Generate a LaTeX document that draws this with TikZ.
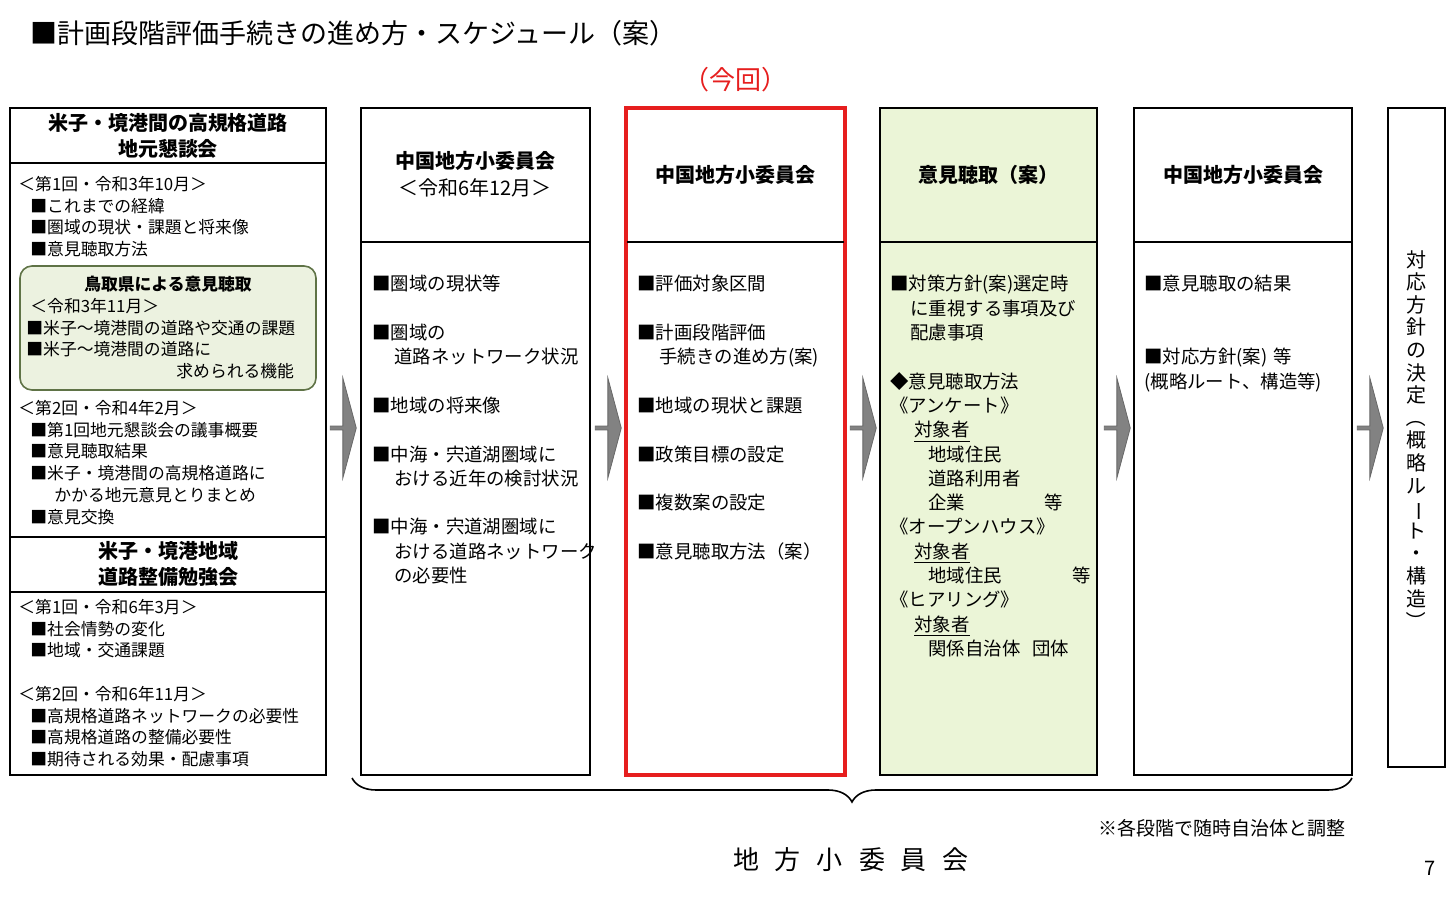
\documentclass[tikz,border=0pt]{standalone}
\usepackage{fontspec}
\setmainfont{Noto Sans CJK JP}
\usepackage{graphicx}
\usetikzlibrary{shapes.arrows, decorations.pathreplacing, positioning}
\definecolor{paleGreen}{RGB}{235,245,215}
\definecolor{boxGreen}{RGB}{236,242,224}
\definecolor{edgeGreen}{RGB}{95,115,70}
\definecolor{nowRed}{RGB}{230,30,30}
\definecolor{arrowGray}{RGB}{130,130,130}
\newcommand{\sq}{■}
\newcommand{\vrot}[1]{\rotatebox[origin=c]{-90}{#1}}

\begin{document}
\begin{tikzpicture}[
    x=0.5pt, y=-0.5pt,
    col/.style={draw, line width=1.3pt},
    hdr/.style={font=\fontsize{10}{13}\selectfont\bfseries, align=center, inner sep=0},
    body/.style={font=\fontsize{9.2}{12.15}\selectfont, align=left, inner sep=0, anchor=north west},
    lbody/.style={font=\fontsize{8.4}{10.85}\selectfont, align=left, inner sep=0, anchor=north west},
    flow/.style={single arrow, fill=arrowGray, draw=arrowGray!80!black, minimum width=50pt, minimum height=13pt, single arrow head extend=5pt, single arrow tip angle=150, inner sep=0, shape border rotate=0}
]
    \useasboundingbox (0,0) rectangle (1452,897);

    % Title
    \node[anchor=west, inner sep=0, font=\fontsize{13.5}{16}\selectfont] (title) at (30,33) {■計画段階評価手続きの進め方・スケジュール（案）};
    \node[inner sep=0, text=nowRed, font=\fontsize{13}{16}\selectfont] (now) at (735,80) {（今回）};

    % Left column
    \draw[col] (10,108) rectangle (326,775);
    \draw[col] (10,163) -- (326,163);
    \draw[col] (10,537) -- (326,537);
    \draw[line width=0.8pt] (10,592) -- (326,592);
    \node[hdr] (left1) at (168,136) {米子・境港間の高規格道路\\地元懇談会};
    \node[hdr] (left2) at (168,564) {米子・境港地域\\道路整備勉強会};
    \node[lbody] (l1) at (18,176) {＜第1回・令和3年10月＞\\
      \hspace{6pt}\sq これまでの経緯\\
      \hspace{6pt}\sq 圏域の現状・課題と将来像\\
      \hspace{6pt}\sq 意見聴取方法};
    \draw[draw=edgeGreen, fill=boxGreen, line width=0.8pt, rounded corners=6pt] (20,266) rectangle (316,390);
    \node[inner sep=0, font=\fontsize{8.4}{10.85}\selectfont\bfseries] (tot) at (168,284) {鳥取県による意見聴取};
    \node[lbody] (g1) at (26,298) {\hspace{2pt}＜令和3年11月＞\\
      \sq 米子～境港間の道路や交通の課題\\
      \sq 米子～境港間の道路に\\
      \hspace{75pt}求められる機能};
    \node[lbody] (l2) at (18,400) {＜第2回・令和4年2月＞\\
      \hspace{6pt}\sq 第1回地元懇談会の議事概要\\
      \hspace{6pt}\sq 意見聴取結果\\
      \hspace{6pt}\sq 米子・境港間の高規格道路に\\
      \hspace{18pt}かかる地元意見とりまとめ\\
      \hspace{6pt}\sq 意見交換};
    \node[lbody] (l3) at (18,599) {＜第1回・令和6年3月＞\\
      \hspace{6pt}\sq 社会情勢の変化\\
      \hspace{6pt}\sq 地域・交通課題\\ \mbox{}\\
      ＜第2回・令和6年11月＞\\
      \hspace{6pt}\sq 高規格道路ネットワークの必要性\\
      \hspace{6pt}\sq 高規格道路の整備必要性\\
      \hspace{6pt}\sq 期待される効果・配慮事項};

    % Column boxes
    \draw[col] (361,108) rectangle (590,775);
    \draw[line width=0.8pt] (361,242) -- (590,242);
    \node[hdr] (c2h) at (475,161) {中国地方小委員会};
    \node[inner sep=0, font=\fontsize{10}{13}\selectfont] (c2d) at (475,188) {＜令和6年12月＞};
    \node[body] (c2) at (372,275) {\sq 圏域の現状等\\ \mbox{}\\
      \sq 圏域の\\ \hspace{11pt}道路ネットワーク状況\\ \mbox{}\\
      \sq 地域の将来像\\ \mbox{}\\
      \sq 中海・宍道湖圏域に\\ \hspace{11pt}おける近年の検討状況\\ \mbox{}\\
      \sq 中海・宍道湖圏域に\\ \hspace{11pt}おける道路ネットワーク\\ \hspace{11pt}の必要性};

    \draw[line width=1.6pt, draw=nowRed] (626,108) rectangle (845,775);
    \draw[line width=0.8pt] (627,242) -- (844,242);
    \node[hdr] (c3h) at (735,175) {中国地方小委員会};
    \node[body] (c3) at (637,275) {\sq 評価対象区間\\ \mbox{}\\
      \sq 計画段階評価\\ \hspace{11pt}手続きの進め方(案)\\ \mbox{}\\
      \sq 地域の現状と課題\\ \mbox{}\\
      \sq 政策目標の設定\\ \mbox{}\\
      \sq 複数案の設定\\ \mbox{}\\
      \sq 意見聴取方法（案）};

    \draw[col, fill=paleGreen] (880,108) rectangle (1097,775);
    \draw[line width=0.8pt] (880,242) -- (1097,242);
    \node[hdr] (c4h) at (988,175) {意見聴取（案）};
    \node[body] (c4) at (890,275) {\sq 対策方針(案)選定時\\
      \hspace{10pt}に重視する事項及び\\
      \hspace{10pt}配慮事項\\ \mbox{}\\
      ◆意見聴取方法\\
      《アンケート》\\
      \hspace{12pt}\underline{対象者}\\
      \hspace{19pt}地域住民\\
      \hspace{19pt}道路利用者\\
      \hspace{19pt}\makebox[58pt][l]{企業}等\\
      《オープンハウス》\\
      \hspace{12pt}\underline{対象者}\\
      \hspace{19pt}\makebox[72pt][l]{地域住民}等\\
      《ヒアリング》\\
      \hspace{12pt}\underline{対象者}\\
      \hspace{19pt}関係自治体\hspace{6pt}団体};

    \draw[col] (1134,108) rectangle (1352,775);
    \draw[line width=0.8pt] (1134,242) -- (1352,242);
    \node[hdr] (c5h) at (1243,175) {中国地方小委員会};
    \node[body] (c5) at (1144,275) {\sq 意見聴取の結果\\ \mbox{}\\ \mbox{}\\
      \sq 対応方針(案)\hspace{3pt}等\\
      (概略ルート、構造等)};

    \draw[line width=0.6pt] (1388,108) rectangle (1445,767);
    \node[inner sep=0, align=center, font=\fontsize{10}{11.3}\selectfont, anchor=north] (c6) at (1416,250) {対\\応\\方\\針\\の\\決\\定\\\vrot{（}\\概\\略\\ル\\\vrot{ー}\\ト\\・\\構\\造\\\vrot{）}};

    % Flow arrows
    \foreach \ax in {343,608,863,1117,1370}
        \node[flow] at (\ax,428) {};

    % Brace
    \coordinate (braceL) at (352,778);
    \coordinate (braceR) at (1352,778);
    \draw[line width=0.8pt, decorate, decoration={brace, mirror, amplitude=12pt}] (braceL) -- (braceR);
    \node[inner sep=0, font=\fontsize{13}{16}\selectfont] (sub) at (851,860) {地\hspace{8pt}方\hspace{8pt}小\hspace{8pt}委\hspace{8pt}員\hspace{8pt}会};
    \node[inner sep=0, font=\fontsize{9.5}{12}\selectfont] (note) at (1222,828) {※各段階で随時自治体と調整};
    \node[inner sep=0, font=\fontsize{10}{12}\selectfont] (page) at (1430,868) {7};
\end{tikzpicture}
\end{document}
